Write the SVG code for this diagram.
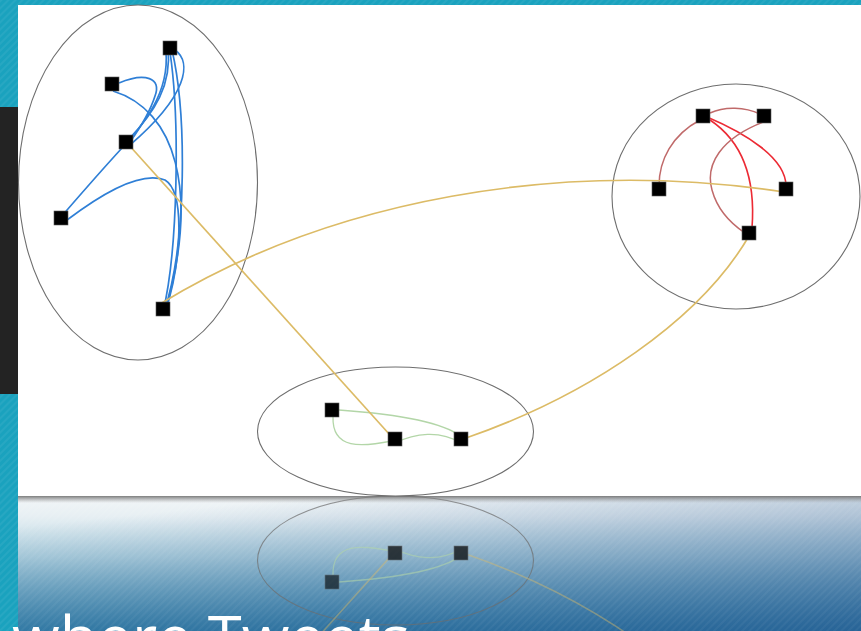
<svg xmlns="http://www.w3.org/2000/svg" width="861" height="631" viewBox="0 0 861 631">
<defs>
  <style>
    .cl{fill:none;stroke:#6e6e6e;stroke-width:1.1}
    .n{fill:#000;stroke:#5a5a5a;stroke-width:0.6}
    .b{fill:none;stroke:#2f7fd6;stroke-width:1.7}
    .r{fill:none;stroke:#ec2a34;stroke-width:1.6}
    .rd{fill:none;stroke:#c06a6a;stroke-width:1.5}
    .y{fill:none;stroke:#dcbb66;stroke-width:1.7}
    .g{fill:none;stroke:#b3d6a8;stroke-width:1.3}
  </style>
  <pattern id="stripes" patternUnits="userSpaceOnUse" width="5" height="5" patternTransform="rotate(45)">
    <rect width="2" height="5" fill="#ffffff" opacity="0.06"/>
  </pattern>
  <pattern id="stripes2" patternUnits="userSpaceOnUse" width="5" height="5" patternTransform="rotate(45)">
    <rect width="2" height="5" fill="#ffffff" opacity="0.045"/>
  </pattern>
  <linearGradient id="reflBg" x1="0" y1="0" x2="0" y2="1">
    <stop offset="0" stop-color="#f2f6f8"/>
    <stop offset="0.15" stop-color="#e7eff3"/>
    <stop offset="0.45" stop-color="#b4d5e1"/>
    <stop offset="1" stop-color="#3f93b4"/>
  </linearGradient>
  <linearGradient id="reflDark" x1="0.35" y1="0" x2="1" y2="1">
    <stop offset="0" stop-color="#1d4f8a" stop-opacity="0"/>
    <stop offset="1" stop-color="#1d4f8a" stop-opacity="0.7"/>
  </linearGradient>
  <linearGradient id="shadow" x1="0" y1="0" x2="0" y2="1">
    <stop offset="0" stop-color="#6f6f6f" stop-opacity="0.9"/>
    <stop offset="1" stop-color="#9a9a9a" stop-opacity="0"/>
  </linearGradient>
  <clipPath id="reflClip"><rect x="18" y="496" width="843" height="135"/></clipPath>
</defs>

<!-- slide background -->
<rect x="0" y="0" width="861" height="631" fill="#1aa2be"/>
<rect x="0" y="0" width="861" height="631" fill="url(#stripes)"/>
<rect x="0" y="107" width="18" height="287" fill="#232323"/>

<!-- reflection area -->
<rect x="18" y="496" width="843" height="135" fill="url(#reflBg)"/>
<rect x="18" y="496" width="843" height="135" fill="url(#reflDark)"/>
<rect x="18" y="496" width="843" height="135" fill="url(#stripes2)"/>

<!-- picture -->
<rect x="18" y="5" width="843" height="491" fill="#ffffff"/>

<g id="clusters">
  <ellipse id="cluster-left" class="cl" cx="138" cy="182.5" rx="119.5" ry="177.5"/>
  <ellipse id="cluster-right" class="cl" cx="736" cy="196.5" rx="124" ry="112.5"/>
  <ellipse id="cluster-bottom" class="cl" cx="395.5" cy="431.5" rx="138" ry="64.5"/>
</g>

<g id="connectors">
  <!-- blue -->
  <path class="b" d="M165,44 C172,85 150,118 122,148 C100,172 80,195 61,217"/>
  <path class="b" d="M168,47 C172,85 155,112 128,140"/>
  <path class="b" d="M175,50 C192,62 188,95 130,145"/>
  <path class="b" d="M119,83 C145,72 162,78 155,96 C150,112 140,128 130,142"/>
  <path class="b" d="M172,50 C186,110 188,240 164,312"/>
  <path class="b" d="M170,52 C180,120 178,250 163,312"/>
  <path class="b" d="M113,91 C175,110 200,190 165,312"/>
  <path class="b" d="M67,220 C100,195 140,170 165,180 C185,192 182,260 165,313"/>
  <!-- red -->
  <path class="rd" d="M710,113 C725,106 745,107 760,114"/>
  <path class="rd" d="M700,120 C672,135 659,160 659,186"/>
  <path class="r" d="M707,117 C745,133 786,158 786,186"/>
  <path class="r" d="M710,120 C740,140 756,175 752,228"/>
  <path class="rd" d="M766,121 C720,138 705,165 712,190 C718,212 733,225 745,233"/>
  <!-- green -->
  <path id="g1" class="g" d="M339,410 C380,413 440,420 460,436"/>
  <path id="g2" class="g" d="M333,417 C332,450 362,447 392,441"/>
  <path id="g3" class="g" d="M395,443 C415,433 440,430 461,443"/>
  <!-- yellow -->
  <path id="y1" class="y" d="M128,144 L390,435"/>
  <path class="y" d="M160,304 C330,200 560,158 784,192"/>
  <path id="y3" class="y" d="M749,236 C700,320 590,395 466,438"/>
</g>

<g id="node-a"><rect class="n" x="163" y="41" width="14" height="14"/></g>
<g id="node-b"><rect class="n" x="105" y="77" width="14" height="14"/></g>
<g id="node-c"><rect class="n" x="119" y="135" width="14" height="14"/></g>
<g id="node-d"><rect class="n" x="54" y="211" width="14" height="14"/></g>
<g id="node-e"><rect class="n" x="156" y="302" width="14" height="14"/></g>
<g id="node-f"><rect class="n" x="696" y="109" width="14" height="14"/></g>
<g id="node-g"><rect class="n" x="757" y="109" width="14" height="14"/></g>
<g id="node-h"><rect class="n" x="652" y="182" width="14" height="14"/></g>
<g id="node-i"><rect class="n" x="779" y="182" width="14" height="14"/></g>
<g id="node-j"><rect class="n" x="742" y="226" width="14" height="14"/></g>
<g id="node-m"><rect class="n" x="325" y="403" width="14" height="14"/></g>
<g id="node-k"><rect class="n" x="388" y="432" width="14" height="14"/></g>
<g id="node-l"><rect class="n" x="454" y="432" width="14" height="14"/></g>

<!-- reflection -->
<g id="reflection" clip-path="url(#reflClip)">
  <g transform="matrix(1 0 0 -1 0 992)" opacity="0.72">
    <use href="#cluster-bottom"/>
    <use href="#g1" opacity="0.8"/>
    <use href="#g2" opacity="0.8"/>
    <use href="#g3" opacity="0.8"/>
    <use href="#y1" opacity="0.6"/>
    <use href="#y3" opacity="0.6"/>
    <use href="#node-m" opacity="0.85"/>
    <use href="#node-k"/>
    <use href="#node-l"/>
  </g>
</g>
<rect x="18" y="496" width="843" height="7" fill="url(#shadow)"/>

<text x="12" y="658" font-family="'Open Sans', 'DejaVu Sans', sans-serif" font-size="58" fill="#ffffff" textLength="398" lengthAdjust="spacingAndGlyphs">where Tweets</text>
</svg>
